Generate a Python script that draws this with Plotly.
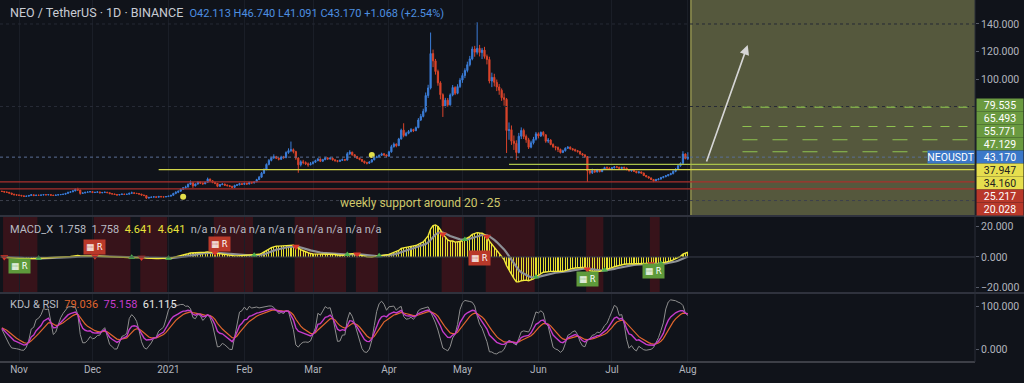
import numpy as np
import pandas as pd
import plotly.graph_objects as go

# ---------------- data ----------------
START = "2020-10-25"
FIRST_OPEN = 18.4

close_oct = [18.2, 17.8, 17.6, 17.0, 16.2, 15.8, 15.6]
high_oct = [18.7, 18.4, 18.1, 17.8, 17.2, 16.5, 16.1]
low_oct = [17.8, 17.4, 17.2, 16.7, 15.9, 15.4, 15.2]

close_nov = [15.4, 15.0, 14.6, 14.8, 15.3, 15.8, 15.2, 15.5, 15.4, 15.6, 15.9, 15.7, 15.9, 15.5, 15.3,
             15.6, 15.8, 16.0, 16.2, 16.8, 17.6, 17.9, 18.6, 19.8, 19.2, 16.8, 17.1, 17.6, 17.8, 18.1]
high_nov = [15.9, 15.6, 15.2, 15.1, 15.6, 16.2, 16.0, 15.8, 15.8, 15.9, 16.2, 16.1, 16.2, 16.0, 15.7,
            15.8, 16.1, 16.3, 16.5, 17.1, 17.9, 18.3, 19.0, 20.4, 20.9, 19.5, 17.5, 17.9, 18.2, 18.5]
low_nov = [15.1, 14.8, 14.4, 14.3, 14.7, 15.2, 15.0, 15.1, 15.1, 15.3, 15.5, 15.5, 15.6, 15.3, 15.0,
           15.2, 15.5, 15.7, 15.9, 16.1, 16.7, 17.3, 17.8, 18.4, 18.8, 15.9, 16.5, 16.9, 17.4, 17.6]

close_dec = [17.4, 17.6, 17.9, 17.2, 17.5, 17.7, 17.3, 16.6, 16.4, 16.0, 15.6, 16.0, 16.3, 16.1, 16.2, 16.9,
             17.2, 16.9, 16.7, 16.3, 15.6, 15.2, 13.4, 13.9, 14.1, 14.3, 14.0, 14.6, 14.3, 14.2, 14.5]
high_dec = [18.3, 17.9, 18.2, 18.0, 17.8, 18.0, 17.8, 17.4, 16.8, 16.5, 16.1, 16.2, 16.6, 16.4, 16.4, 17.2,
            18.1, 17.4, 17.0, 16.8, 16.4, 15.8, 15.3, 14.2, 14.4, 14.6, 14.5, 14.8, 14.7, 14.5, 14.7]
low_dec = [17.1, 17.2, 17.4, 17.0, 17.0, 17.3, 17.1, 16.4, 16.1, 15.8, 15.3, 15.5, 15.9, 15.9, 15.9, 16.1,
           16.8, 16.6, 16.4, 16.0, 15.3, 14.9, 12.8, 13.1, 13.7, 13.9, 13.8, 13.9, 14.0, 13.9, 14.1]

close_jan = [14.8, 15.4, 16.8, 17.6, 18.4, 19.8, 20.9, 21.5, 23.4, 24.6, 22.3, 23.6, 25.1, 24.4, 23.8, 24.9,
             27.2, 26.0, 24.8, 24.1, 22.0, 23.2, 23.6, 22.8, 22.4, 21.9, 21.2, 22.6, 23.0, 23.9, 23.4]
high_jan = [15.1, 15.7, 17.2, 18.4, 18.9, 20.3, 21.4, 22.4, 24.0, 26.2, 24.8, 24.0, 25.6, 25.4, 24.8, 25.4,
            28.3, 27.6, 26.3, 25.2, 24.3, 23.6, 24.2, 23.9, 23.3, 22.8, 22.3, 23.1, 23.6, 24.5, 24.2]
low_jan = [14.3, 14.6, 15.2, 16.2, 17.0, 18.1, 19.4, 20.2, 21.1, 22.9, 20.8, 21.9, 23.2, 23.6, 23.0, 23.5,
           24.6, 25.4, 24.2, 23.5, 21.3, 21.7, 22.8, 22.2, 21.9, 21.3, 20.6, 21.0, 22.2, 22.7, 22.9]

close_feb = [24.1, 23.6, 24.8, 24.4, 25.2, 26.8, 28.6, 31.5, 34.2, 37.9, 40.8, 42.6, 43.5, 42.4,
             41.6, 43.2, 42.8, 46.5, 47.9, 48.6, 47.2, 42.5, 37.6, 39.8, 39.2, 38.3, 37.6, 38.4]
high_feb = [24.8, 24.6, 25.3, 25.2, 25.8, 27.4, 29.5, 32.4, 35.1, 38.6, 41.8, 43.5, 45.2, 44.1,
            43.0, 44.2, 44.1, 47.4, 49.6, 54.5, 49.5, 47.8, 43.1, 40.9, 41.2, 40.1, 39.3, 39.6]
low_feb = [23.1, 23.0, 23.4, 23.9, 24.1, 25.0, 26.5, 28.2, 30.9, 33.6, 37.2, 40.1, 41.9, 41.8,
           40.8, 41.2, 42.0, 42.4, 45.6, 46.8, 45.9, 41.2, 31.8, 36.4, 38.0, 37.4, 36.2, 37.2]

close_mar = [39.5, 40.6, 41.8, 40.2, 41.3, 42.6, 41.9, 42.5, 41.2, 40.6, 40.1, 40.8, 41.4, 41.0, 45.6, 46.8,
             44.9, 43.6, 42.4, 41.5, 40.2, 39.1, 38.8, 39.6, 41.2, 42.8, 43.4, 44.5, 45.6, 44.8, 43.9]
high_mar = [40.2, 41.3, 42.6, 42.2, 41.9, 43.4, 43.1, 43.0, 42.8, 41.6, 41.0, 41.4, 42.2, 41.9, 46.8, 48.2,
            47.1, 45.3, 44.1, 42.8, 41.8, 40.6, 39.8, 40.2, 41.8, 43.5, 44.2, 45.1, 46.4, 46.2, 45.1]
low_mar = [37.9, 39.0, 40.2, 39.6, 39.8, 41.0, 41.2, 41.3, 40.6, 39.9, 39.4, 39.7, 40.5, 40.3, 40.8, 44.9,
           44.2, 42.9, 41.8, 40.9, 39.6, 38.4, 37.9, 38.2, 39.3, 40.9, 42.6, 43.1, 44.2, 44.1, 43.1]

close_apr = [47.0, 50.8, 52.6, 51.5, 56.4, 62.8, 58.9, 60.5, 61.8, 63.2, 62.4, 64.6, 70.2, 72.8, 76.5,
             88.0, 93.5, 118.5, 113.2, 105.4, 97.2, 88.6, 80.4, 84.6, 81.2, 88.4, 93.8, 89.6, 94.5, 99.2]
high_apr = [47.8, 52.1, 53.8, 53.2, 57.2, 63.9, 67.8, 61.6, 62.9, 64.3, 63.8, 65.4, 71.6, 74.6, 78.4,
            90.2, 95.8, 133.8, 121.4, 114.6, 106.8, 98.4, 89.6, 86.3, 86.2, 89.5, 95.6, 94.7, 96.2, 100.8]
low_apr = [43.5, 46.4, 50.1, 50.3, 51.2, 55.9, 57.6, 58.2, 59.8, 61.2, 61.4, 62.1, 64.2, 69.4, 72.1,
           75.6, 86.2, 92.4, 108.6, 103.2, 95.1, 85.2, 72.4, 79.2, 79.8, 80.6, 87.4, 88.3, 88.9, 93.4]

close_may = [102.5, 106.2, 110.4, 114.6, 121.8, 119.5, 122.3, 119.2, 121.0, 116.4, 114.2, 98.5, 101.2, 97.6,
             94.2, 91.8, 86.4, 85.2, 62.5, 63.1, 54.8, 53.2, 46.5, 58.4, 62.6, 58.2, 55.8, 50.4, 53.6, 56.2, 60.1]
high_may = [104.2, 107.8, 112.6, 116.8, 123.6, 124.1, 141.2, 124.8, 122.6, 123.4, 117.8, 116.2, 104.6, 103.8,
            99.6, 96.4, 93.1, 89.6, 86.2, 68.4, 66.2, 58.9, 55.4, 60.8, 64.8, 63.9, 59.6, 57.2, 55.1, 57.9, 61.5]
low_may = [97.2, 100.6, 104.8, 109.2, 113.6, 116.2, 117.8, 116.4, 114.5, 114.8, 110.6, 96.8, 94.1, 94.6,
           91.2, 88.5, 84.1, 80.6, 46.2, 55.8, 52.1, 48.4, 41.2, 45.9, 56.3, 56.4, 53.6, 49.1, 49.6, 52.4, 55.2]

close_jun = [58.5, 61.2, 59.4, 54.8, 55.6, 52.4, 50.8, 50.2, 48.8, 46.5, 47.8, 49.6, 50.4, 49.2, 48.6,
             47.9, 47.2, 45.6, 44.8, 43.6, 33.2, 31.8, 33.4, 32.5, 33.9, 32.6, 34.2, 35.6, 35.2, 34.6]
high_jun = [61.2, 61.8, 62.1, 59.8, 57.1, 56.2, 53.2, 51.3, 50.9, 49.4, 48.6, 50.3, 51.2, 51.0, 49.8,
            49.3, 48.4, 47.8, 46.2, 45.3, 43.9, 34.5, 34.8, 34.3, 34.6, 34.4, 34.8, 36.2, 36.4, 35.8]
low_jun = [56.8, 57.9, 58.2, 53.6, 53.4, 51.8, 49.9, 48.1, 46.9, 45.8, 46.1, 47.2, 49.1, 48.6, 47.9,
           47.1, 46.5, 44.9, 44.2, 42.6, 25.1, 30.6, 30.9, 31.6, 31.9, 32.1, 32.3, 33.8, 34.6, 33.9]

close_jul = [35.4, 36.1, 35.8, 34.9, 35.7, 35.2, 34.1, 33.2, 33.8, 32.9, 31.9, 32.4, 31.6, 29.8, 28.9, 28.0,
             26.9, 25.9, 26.8, 27.2, 28.3, 28.9, 29.6, 30.4, 31.2, 32.8, 34.4, 36.9, 38.6, 45.4, 42.113]
high_jul = [35.9, 36.6, 36.8, 36.1, 36.2, 36.3, 35.6, 34.5, 34.4, 34.2, 33.1, 32.9, 32.7, 31.9, 30.2, 29.3,
            28.4, 27.3, 27.4, 27.9, 28.8, 29.4, 30.1, 30.9, 31.8, 33.6, 35.1, 37.8, 39.4, 47.5, 45.9]
low_jul = [34.1, 34.9, 35.1, 34.4, 34.5, 34.7, 33.6, 32.8, 32.6, 32.4, 31.4, 31.2, 31.1, 29.4, 28.5, 27.6,
           26.4, 25.0, 25.6, 26.3, 26.9, 27.8, 28.6, 29.3, 30.1, 30.6, 32.2, 34.1, 36.2, 38.1, 41.6]

close_aug = [43.170]
high_aug = [46.740]
low_aug = [41.091]

close = (close_oct + close_nov + close_dec + close_jan + close_feb + close_mar + close_apr +
         close_may + close_jun + close_jul + close_aug)
high = (high_oct + high_nov + high_dec + high_jan + high_feb + high_mar + high_apr +
        high_may + high_jun + high_jul + high_aug)
low = (low_oct + low_nov + low_dec + low_jan + low_feb + low_mar + low_apr +
       low_may + low_jun + low_jul + low_aug)
assert len(close) == len(high) == len(low), (len(close), len(high), len(low))

# drawn levels / annotations
fib_levels = [79.535, 65.493, 55.771, 47.129]
last_price = 43.170
level_green_yellow = 37.947
level_yellow = 34.160
red_levels = [25.217, 20.028]
grey_support = 11.6
marker_dates = ["2021-01-07", "2021-03-25"]
marker_prices = [14.4, 44.7]

month_ticks = ["2020-11-01", "2020-12-01", "2021-01-01", "2021-02-01", "2021-03-01",
               "2021-04-01", "2021-05-01", "2021-06-01", "2021-07-01", "2021-08-01"]
month_labels = ["Nov", "Dec", "2021", "Feb", "Mar", "Apr", "May", "Jun", "Jul", "Aug"]

macd_signals = [("2020-11-01", "bull", -5.9), ("2020-12-02", "bear", 6.6), ("2021-01-22", "bear", 8.5),
                ("2021-05-08", "bear", -0.7), ("2021-06-21", "bull", -14.4), ("2021-07-18", "bull", -9.2)]

# indicator settings
MACD_FAST, MACD_SLOW, MACD_SIGNAL = 9, 26, 9
KDJ_N = 9

# ---------------- derived ----------------
dates = pd.date_range(START, periods=len(close), freq="D")
opens = [FIRST_OPEN] + close[:-1]
s = pd.Series(close, index=dates)
ema_f = s.ewm(span=MACD_FAST, adjust=False).mean()
ema_s = s.ewm(span=MACD_SLOW, adjust=False).mean()
macd = ema_f - ema_s
sig = macd.ewm(span=MACD_SIGNAL, adjust=False).mean()

hh = pd.Series(high, index=dates).rolling(KDJ_N, min_periods=1).max()
ll = pd.Series(low, index=dates).rolling(KDJ_N, min_periods=1).min()
rsv = ((s - ll) / (hh - ll) * 100).values
K, D = [], []
k, d = 50.0, 50.0
for r in rsv:
    k = 2 / 3 * k + r / 3
    d = 2 / 3 * d + k / 3
    K.append(k)
    D.append(d)
K = np.array(K)
D = np.array(D)
J = 3 * K - 2 * D

# ---------------- geometry ----------------
W, H = 1024, 383
MR, MB = 49, 21
PLOT_H = H - MB
PX_PER_DAY = 2.45
x0 = pd.Timestamp("2020-11-01") - pd.Timedelta(days=19 / PX_PER_DAY)
x1 = x0 + pd.Timedelta(days=(W - MR) / PX_PER_DAY)

PRICE_MIN, PRICE_MAX = 1.09, 157.45
MACD_MIN, MACD_MAX = -22.95, 26.2
KDJ_MIN, KDJ_MAX = -30.2, 127.9
price_dom = [1 - 215 / PLOT_H, 1]
macd_dom = [1 - 292 / PLOT_H, 1 - 217 / PLOT_H]
kdj_dom = [0, 1 - 294 / PLOT_H]

BG = "#10131a"
AX = "#b2b5be"
UP = "#3b7dd8"
DN = "#d9442b"
FONT = "Roboto, DejaVu Sans, sans-serif"

fig = go.Figure()

fig.add_trace(go.Candlestick(
    x=dates, open=opens, high=high, low=low, close=close,
    increasing=dict(line=dict(color=UP, width=1), fillcolor=UP),
    decreasing=dict(line=dict(color=DN, width=1), fillcolor=DN),
    whiskerwidth=0, xaxis="x", yaxis="y", hoverinfo="skip"))

fig.add_trace(go.Scatter(x=marker_dates, y=marker_prices, mode="markers",
                         marker=dict(color="#e3df4a", size=6), xaxis="x", yaxis="y", hoverinfo="skip"))

# MACD
fig.add_trace(go.Bar(x=dates, y=macd, marker=dict(color="#e6df2e", line=dict(width=0)),
                     width=0.45 * 86400000, xaxis="x2", yaxis="y2", hoverinfo="skip"))
fig.add_trace(go.Scatter(x=dates, y=sig, mode="lines", line=dict(color="#8d9096", width=2.2),
                         xaxis="x2", yaxis="y2", hoverinfo="skip"))
fig.add_trace(go.Scatter(x=dates, y=macd, mode="lines", line=dict(color="#f2ea3c", width=1.4),
                         xaxis="x2", yaxis="y2", hoverinfo="skip"))
m = macd.values
sg = sig.values
bear_i = [i for i in range(1, len(m)) if m[i - 1] >= sg[i - 1] and m[i] < sg[i]]
bull_i = [i for i in range(1, len(m)) if m[i - 1] <= sg[i - 1] and m[i] > sg[i]]
fig.add_trace(go.Scatter(x=dates[bear_i], y=m[bear_i], mode="markers",
                         marker=dict(symbol="triangle-down", color="#d8382a", size=7),
                         xaxis="x2", yaxis="y2", hoverinfo="skip"))
fig.add_trace(go.Scatter(x=dates[bull_i], y=m[bull_i], mode="markers",
                         marker=dict(symbol="triangle-up", color="#4caf50", size=6),
                         xaxis="x2", yaxis="y2", hoverinfo="skip"))

# KDJ
fig.add_trace(go.Scatter(x=dates, y=J, mode="lines", line=dict(color="#8e8e8e", width=1),
                         xaxis="x3", yaxis="y3", hoverinfo="skip"))
fig.add_trace(go.Scatter(x=dates, y=D, mode="lines", line=dict(color="#e0662e", width=1.2),
                         xaxis="x3", yaxis="y3", hoverinfo="skip"))
fig.add_trace(go.Scatter(x=dates, y=K, mode="lines", line=dict(color="#c53ccb", width=1.4),
                         xaxis="x3", yaxis="y3", hoverinfo="skip"))

shapes = []
# red background bands in MACD pane where macd < signal
below = m < sg
i = 0
half = pd.Timedelta(hours=12)
while i < len(below):
    if below[i]:
        j = i
        while j + 1 < len(below) and below[j + 1]:
            j += 1
        shapes.append(dict(type="rect", xref="x2", yref="y2 domain", x0=dates[i] - half, x1=dates[j] + half,
                           y0=0, y1=1, fillcolor="rgba(120,22,26,0.38)", line=dict(width=0), layer="below"))
        i = j + 1
    else:
        i += 1

# projection box
box_start = pd.Timestamp("2021-08-02 06:00")
shapes.append(dict(type="rect", xref="x", yref="y domain", x0=box_start, x1=x1, y0=0, y1=1,
                   fillcolor="#55583d", line=dict(width=0), layer="below"))
shapes.append(dict(type="line", xref="x", yref="y domain", x0=box_start, x1=box_start, y0=0, y1=1,
                   line=dict(color="#a6a657", width=1.2)))

# horizontal levels
for g in [140, 80]:
    shapes.append(dict(type="line", xref="x", yref="y", x0=x0, x1=x1, y0=g, y1=g,
                       line=dict(color="#262a35", width=1, dash="dot")))
green_start = pd.Timestamp("2021-08-23 07:00")
for lv, dash in zip(fib_levels, ["dash", "dash", "longdash", "longdash"]):
    shapes.append(dict(type="line", xref="x", yref="y", x0=green_start, x1=x1, y0=lv, y1=lv,
                       line=dict(color="#8fc24f", width=1.1, dash=dash)))
shapes.append(dict(type="line", xref="x", yref="y", x0=x0, x1=x1, y0=last_price, y1=last_price,
                   line=dict(color="#5a6f96", width=1, dash="dot")))
shapes.append(dict(type="line", xref="x", yref="y", x0=pd.Timestamp("2021-05-20"), x1=x1,
                   y0=level_green_yellow, y1=level_green_yellow, line=dict(color="#a9c24a", width=1.2)))
shapes.append(dict(type="line", xref="x", yref="y", x0=pd.Timestamp("2020-12-28"), x1=x1,
                   y0=level_yellow, y1=level_yellow, line=dict(color="#d2d64a", width=1.3)))
for lv in red_levels:
    shapes.append(dict(type="line", xref="x", yref="y", x0=x0, x1=x1, y0=lv, y1=lv,
                       line=dict(color="#a8302c", width=1.2)))
shapes.append(dict(type="line", xref="x", yref="y", x0=x0, x1=x1, y0=grey_support, y1=grey_support,
                   line=dict(color="#3c404c", width=1, dash="dot")))
# MACD zero line
shapes.append(dict(type="line", xref="x2", yref="y2", x0=x0, x1=x1, y0=0, y1=0,
                   line=dict(color="#3a3e4a", width=1)))
# pane separators and frame
for yp in [1 - 216 / PLOT_H, 1 - 293 / PLOT_H]:
    shapes.append(dict(type="line", xref="paper", yref="paper", x0=0, x1=W / (W - MR), y0=yp, y1=yp,
                       line=dict(color="#3a3e4a", width=1.5)))
shapes.append(dict(type="line", xref="paper", yref="paper", x0=0, x1=1, y0=0, y1=0,
                   line=dict(color="#6a6d75", width=1.2)))
shapes.append(dict(type="line", xref="paper", yref="paper", x0=1, x1=1, y0=0, y1=1,
                   line=dict(color="#2a2e39", width=1)))

ann = []
# header texts
ann.append(dict(xref="paper", yref="paper", x=0.008, y=1 - 13 / PLOT_H, xanchor="left", yanchor="middle",
                showarrow=False, font=dict(family=FONT, size=12.5, color="#c9ccd4"),
                text='NEO / TetherUS · 1D · BINANCE  <span style="color:#4d8fe0;font-size:11px">'
                     'O42.113 H46.740 L41.091 C43.170 +1.068 (+2.54%)</span>'))
na = " ".join(["n/a"] * 10)
ann.append(dict(xref="paper", yref="paper", x=0.008, y=1 - 229 / PLOT_H, xanchor="left", yanchor="middle",
                showarrow=False, font=dict(family=FONT, size=11, color="#b8bbc3"),
                text='MACD_X  1.758  1.758  <span style="color:#e8e23a">4.641  4.641</span>  ' + na))
ann.append(dict(xref="paper", yref="paper", x=0.008, y=1 - 304 / PLOT_H, xanchor="left", yanchor="middle",
                showarrow=False, font=dict(family=FONT, size=11, color="#b8bbc3"),
                text='KDJ &amp; RSI  <span style="color:#e0662e">79.036</span>  '
                     '<span style="color:#c53ccb">75.158</span>  <span style="color:#e8e8e8">61.115</span>'))

# support text
ann.append(dict(xref="x", yref="y", x="2021-04-14", y=9.8, showarrow=False,
                font=dict(family=FONT, size=12, color="#cfc86a"), text="weekly support around 20 - 25"))
# projection arrow
ann.append(dict(xref="x", yref="y", axref="x", ayref="y", x=pd.Timestamp("2021-08-25 10:00"), y=124.7,
                ax=pd.Timestamp("2021-08-08 10:00"), ay=38.9, text="", showarrow=True, arrowhead=2,
                arrowsize=1.2, arrowwidth=1.6, arrowcolor="#d6d6d6"))

# right price-scale labels (stacked so they do not overlap)
def p2px(p):
    return (PRICE_MAX - p) / (PRICE_MAX - PRICE_MIN) * 215


def px2p(px):
    return PRICE_MAX - px / 215 * (PRICE_MAX - PRICE_MIN)


GREEN, BLUE, YEL, RED = "#6a9a40", "#3b78c8", "#e6de4e", "#b8382a"
labels = [(v, GREEN, "white") for v in fib_levels] + [(last_price, BLUE, "white")] + \
         [(level_green_yellow, YEL, "#222"), (level_yellow, YEL, "#222")] + \
         [(v, RED, "white") for v in red_levels]
pos = [p2px(v) for v, _, _ in labels]
anchor = 4
for i2 in range(anchor - 1, -1, -1):
    pos[i2] = min(pos[i2], pos[i2 + 1] - 13)
for i2 in range(anchor + 1, len(pos)):
    pos[i2] = max(pos[i2], pos[i2 - 1] + 13)
for (v, bg, fc), px in zip(labels, pos):
    ann.append(dict(xref="paper", yref="y", x=1, y=px2p(px), xanchor="left", yanchor="middle", xshift=1,
                    showarrow=False, text=f"{v:.3f}", bgcolor=bg, width=46, height=12, borderpad=0,
                    font=dict(family=FONT, size=10.5, color=fc)))
ann.append(dict(xref="paper", yref="y", x=1, y=last_price, xanchor="right", yanchor="middle",
                showarrow=False, text="NEOUSDT", bgcolor=BLUE, width=46, height=12, borderpad=0,
                font=dict(family=FONT, size=10.5, color="white")))

# MACD signal boxes
for dt, kind, val in macd_signals:
    ann.append(dict(xref="x2", yref="y2", x=dt, y=val, showarrow=False, xanchor="center", yanchor="middle",
                    text="▦ R", bgcolor="#5e9a3b" if kind == "bull" else "#b9392a", borderpad=2,
                    font=dict(family="DejaVu Sans", size=8.5, color="white")))

xcommon = dict(range=[x0, x1], showgrid=True, gridcolor="#1a1e27", gridwidth=1, tickvals=month_ticks,
               zeroline=False, showline=False, rangeslider=dict(visible=False))
ycommon = dict(side="right", showgrid=False, zeroline=False, tickfont=dict(family=FONT, size=10.5, color=AX),
               tickformat=".3f", ticks="outside", ticklen=3, tickcolor="#555a66", showline=False)

fig.update_layout(
    width=W, height=H, margin=dict(l=0, r=MR, t=0, b=MB),
    paper_bgcolor=BG, plot_bgcolor=BG, showlegend=False, bargap=0,
    xaxis=dict(**xcommon, anchor="y", showticklabels=False),
    xaxis2=dict(**xcommon, anchor="y2", matches="x", showticklabels=False),
    xaxis3=dict(**xcommon, anchor="y3", matches="x", showticklabels=True, ticktext=month_labels,
                tickfont=dict(family=FONT, size=10, color=AX)),
    yaxis=dict(**ycommon, domain=price_dom, range=[PRICE_MIN, PRICE_MAX], tickvals=[100, 120, 140], anchor="x"),
    yaxis2=dict(**ycommon, domain=macd_dom, range=[MACD_MIN, MACD_MAX], tickvals=[-20, 0, 20], anchor="x2"),
    yaxis3=dict(**ycommon, domain=kdj_dom, range=[KDJ_MIN, KDJ_MAX], tickvals=[0, 100], anchor="x3"),
    shapes=shapes, annotations=ann,
)

fig.write_html("out.html", config={"displayModeBar": False, "staticPlot": True},
               post_script="document.body.style.margin='0';document.body.style.overflow='hidden';"
                           "document.body.style.background='" + BG + "';")
